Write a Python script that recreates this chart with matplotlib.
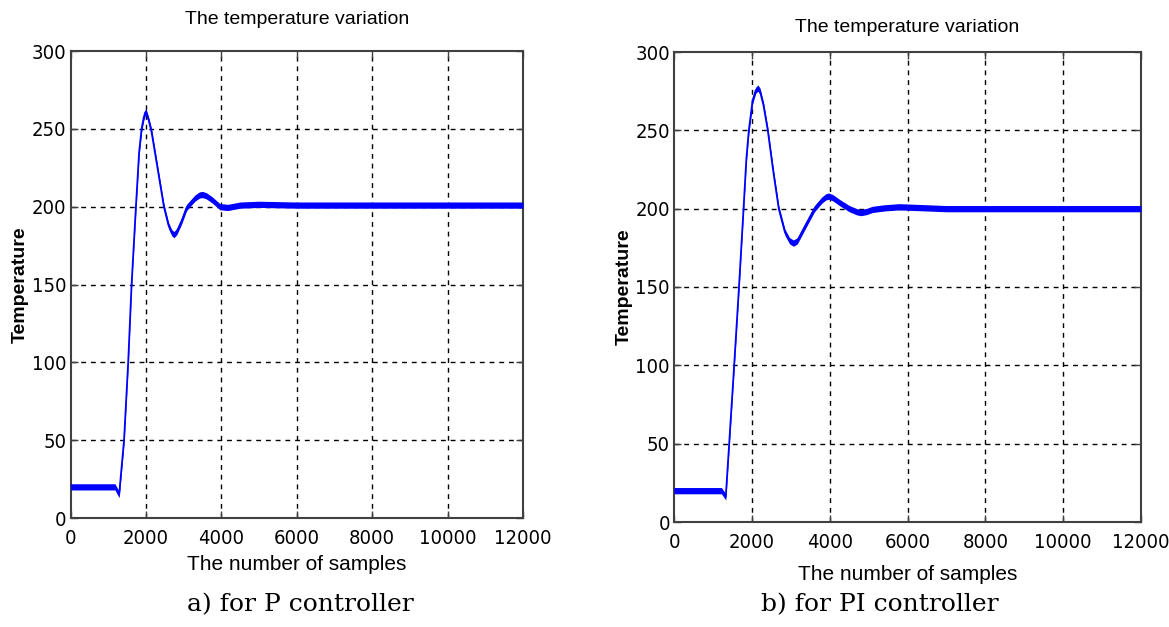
import matplotlib
matplotlib.use('Agg')
import matplotlib.pyplot as plt
from matplotlib import font_manager as fm

# MATLAB figures use a narrow sans for ticks; use a condensed face if the box has one
def narrow_props(size):
    for fam, st in [('Liberation Sans Narrow', 'normal'), ('DejaVu Sans', 'condensed')]:
        fp = fm.FontProperties(family=fam, stretch=st, size=size)
        try:
            path = fm.findfont(fp, fallback_to_default=False)
        except Exception:
            continue
        if 'Narrow' in path or 'Condensed' in path:
            return fp
    return fm.FontProperties(family='Liberation Sans', size=size - 1.5)

sans = 'Liberation Sans'
serif = 'DejaVu Serif'

# data
p_samples = [0, 500, 1000, 1180, 1290, 1420, 1530, 1620, 1735, 1820, 1886, 1940, 1980, 2000,
             2030, 2080, 2150, 2300, 2477, 2600, 2680, 2742, 2820, 2950, 3080, 3300, 3420,
             3500, 3600, 3750, 3960, 4170, 4500, 5000, 6000, 7000, 8000, 9000, 10000,
             11000, 12000]
p_temp = [20, 20, 20, 20, 15, 50, 100, 150, 200, 235, 250, 257, 260.5, 261,
          259, 255, 248, 226, 200, 188, 183.5, 182, 184, 191, 199.5, 205.5, 207.5,
          207.8, 207, 204.5, 200, 199.5, 201, 201.5, 201, 201, 201, 201, 201,
          201, 201]

pi_samples = [0, 500, 1000, 1220, 1330, 1418, 1546, 1670, 1787, 1860, 1923, 2020, 2100,
              2154, 2210, 2300, 2410, 2550, 2692, 2850, 2970, 3070, 3170, 3350, 3610,
              3800, 3900, 3974, 4080, 4250, 4505, 4700, 4805, 4950, 5095, 5400, 5787,
              6500, 7000, 8000, 9000, 10000, 11000, 12000]
pi_temp = [20, 20, 20, 20, 16, 50, 100, 150, 200, 232, 250, 269, 275.5,
           277, 275, 266, 250, 224, 200, 185, 179.5, 178, 179.5, 188, 200,
           205.5, 207.5, 208, 207, 204, 200, 198, 197.5, 198.2, 199.5, 200.5, 201.2,
           200.5, 200, 200, 200, 200, 200, 200]

xticks = [0, 2000, 4000, 6000, 8000, 10000, 12000]
yticks = [0, 50, 100, 150, 200, 250, 300]

W, H = 1169, 627
fig = plt.figure(figsize=(W / 100, H / 100), dpi=100)
tick_fp = narrow_props(14.5)

def setup(rect, xs, ys, title_y, xlab_y, caption, cap_x):
    l, r, t, b = rect
    ax = fig.add_axes([l / W, 1 - b / H, (r - l) / W, (b - t) / H])
    ax.fill_between(xs, [v - 2 for v in ys], [v + 2 for v in ys],
                    color='#0000ff', lw=0, zorder=3)
    ax.plot(xs, ys, color='#0000ff', lw=1.3, zorder=3)
    ax.set_xlim(0, 12000)
    ax.set_ylim(0, 300)
    ax.set_xticks(xticks)
    ax.set_yticks(yticks)
    ax.set_xticklabels([str(v) for v in xticks], fontproperties=tick_fp)
    ax.set_yticklabels([str(v) for v in yticks], fontproperties=tick_fp)
    ax.tick_params(direction='in', length=5, width=1, top=True, right=True,
                   color='#404040', pad=3)
    ax.tick_params(axis='x', pad=8)
    for s in ax.spines.values():
        s.set_color('#404040')
        s.set_linewidth(1.5)
    for v in xticks[1:-1]:
        ax.axvline(v, color='black', lw=1, ls=(0, (3.5, 3.5)), zorder=1)
    for v in yticks[1:-1]:
        ax.axhline(v, color='black', lw=1, ls=(0, (3.5, 3.5)), zorder=1)
    cx = (l + r) / 2
    fig.text(cx / W, 1 - title_y / H, 'The temperature variation', family=sans,
             fontsize=14, ha='center', va='center')
    fig.text(cx / W, 1 - xlab_y / H, 'The number of samples', family=sans,
             fontsize=15, ha='center', va='center')
    ax.set_ylabel('Temperature', family=sans, fontsize=14, fontweight='bold',
                  labelpad=2)
    fig.text(cap_x / W, 1 - 605 / H, caption, family=serif, fontsize=18,
             ha='center', va='center')
    return ax

setup((70.5, 523, 51, 518), p_samples, p_temp, 20, 565, 'a) for P controller', 300)
setup((674, 1141, 52, 522), pi_samples, pi_temp, 27, 575, 'b) for PI controller', 880)

fig.savefig('out.png', dpi=100)
